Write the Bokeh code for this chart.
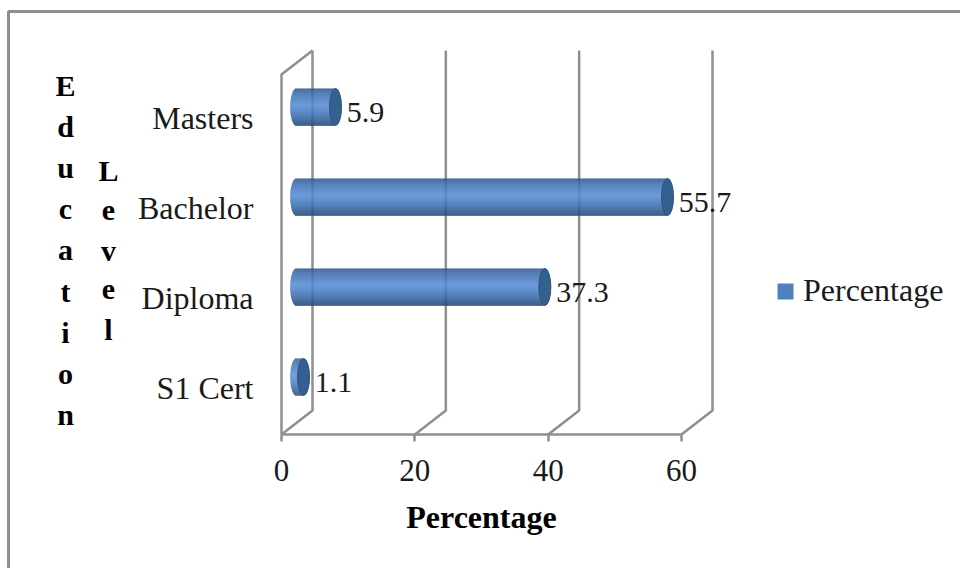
import numpy as np
from bokeh.embed import file_html
from bokeh.models import (ColumnDataSource, FixedTicker, Label, Legend,
                          LegendItem, LinearAxis, Range1d)
from bokeh.plotting import figure
from bokeh.resources import INLINE

categories = ["S1 Cert", "Diploma", "Bachelor", "Masters"]
percentages = [1.1, 37.3, 55.7, 5.9]
x_ticks = [0, 20, 40, 60]
series_name = "Percentage"
x_title = "Percentage"
y_title_left = "Education"
y_title_right = "Level"

SERIF = "Liberation Serif"
GREY = "#8f8f8f"
TEXT = "#1a1a1a"
WIDTH, HEIGHT = 960, 568

# The frame fills the page; scale factors are pixels per data unit
PX_X = 400 / 60
PX_Y = 90.0
ZERO_X, ZERO_Y = 281, 387
FLOOR_PX = 434


def dx(px):
    return (px - ZERO_X) / PX_X


def dy(py):
    return (ZERO_Y - py) / PX_Y


p = figure(width=WIDTH, height=HEIGHT, output_backend="svg", toolbar_location=None,
           x_range=Range1d(dx(0), dx(WIDTH)), y_range=Range1d(dy(HEIGHT), dy(0)),
           min_border=0, x_axis_type=None, y_axis_type=None, outline_line_color=None)
p.grid.visible = False

# Chart border runs off the right and bottom of the page
p.line([dx(WIDTH + 5), dx(8), dx(8)], [dy(11), dy(11), dy(HEIGHT + 5)], line_color=GREY, line_width=3)

# 3-D walls: a diagonal from the floor to the back plane, then a vertical line
depth_x, depth_y = 31 / PX_X, 24 / PX_Y
floor = dy(FLOOR_PX)
back_top = dy(50)
for t in x_ticks:
    p.line([t, t + depth_x, t + depth_x], [floor, floor + depth_y, back_top],
           line_color=GREY, line_width=2.5)
p.line([0, 0, depth_x], [floor, back_top - depth_y, back_top], line_color=GREY, line_width=2.5)

# Cylinders: stacked one-pixel strips give the vertical shading
stops_t = [0.0, 0.12, 0.45, 0.72, 1.0]
stops_rgb = np.array([[0x2c, 0x56, 0x8a], [0x3c, 0x6c, 0xa9], [0x58, 0x8e, 0xd6],
                      [0x3e, 0x72, 0xb4], [0x22, 0x46, 0x72]], dtype=float)
bar_h = 37 / PX_Y
cap_a = 6 / PX_X
inset_x = 14.7 / PX_X
lift = 10.5 / PX_Y
n_strips = 37
for i, v in enumerate(percentages):
    yc = i + lift
    t = (np.arange(n_strips) + 0.5) / n_strips
    left = inset_x - cap_a * np.sqrt(1 - (2 * t - 1) ** 2)
    cols = ["#%02x%02x%02x" % tuple(int(np.interp(tt, stops_t, stops_rgb[:, c])) for c in range(3))
            for tt in t]
    top = yc + bar_h / 2 - t * bar_h + bar_h / n_strips / 2
    p.quad(left=left, right=np.full(n_strips, v + inset_x), top=top, bottom=top - bar_h / n_strips * 1.15,
           fill_color=cols, line_color=None)
    p.ellipse(x=[v + inset_x], y=[yc], width=[2 * cap_a], height=[bar_h],
              fill_color="#33608f", line_color="#2c5480", line_width=1)

# Value labels sit just past the end of each cylinder
src = ColumnDataSource(dict(x=percentages, y=[i + 5 / PX_Y for i in range(4)],
                            t=[str(v) for v in percentages]))
p.text("x", "y", text="t", source=src, x_offset=26, text_align="left", text_baseline="middle",
       text_font={"value": SERIF}, text_font_size="30px", text_color=TEXT)

# Value axis, pinned to the chart floor
xaxis = LinearAxis(ticker=FixedTicker(ticks=x_ticks), bounds=(0, 60), fixed_location=floor)
xaxis.axis_line_color = GREY
xaxis.axis_line_width = 2.5
xaxis.major_tick_line_color = GREY
xaxis.major_tick_line_width = 2.5
xaxis.major_tick_out = 7
xaxis.major_tick_in = 0
xaxis.minor_tick_line_color = None
xaxis.major_label_standoff = 18
xaxis.major_label_text_font = SERIF
xaxis.major_label_text_font_size = "31px"
xaxis.major_label_text_color = TEXT
p.add_layout(xaxis, "below")

# Category axis, pinned left of the wall
yaxis = LinearAxis(ticker=FixedTicker(ticks=list(range(4))), fixed_location=dx(270),
                   major_label_overrides={i: c for i, c in enumerate(categories)})
yaxis.axis_line_color = None
yaxis.major_tick_line_color = None
yaxis.minor_tick_line_color = None
yaxis.major_label_standoff = 11
yaxis.major_label_text_font = SERIF
yaxis.major_label_text_font_size = "32px"
yaxis.major_label_text_color = TEXT
p.add_layout(yaxis, "left")


def page_label(px, py, text, size):
    p.add_layout(Label(x=px, y=HEIGHT - py, x_units="screen", y_units="screen",
                       text=text, text_align="center", text_baseline="middle",
                       text_font=SERIF, text_font_style="bold",
                       text_font_size=size, text_color="#000000"))


# Value axis title, centred under the 0-60 span
page_label(481, 516, x_title, "32px")

# Stacked, upright axis title in two columns
for word, sx, top_y, step in ((y_title_left, 65, 85, 41.1), (y_title_right, 108, 170, 39.8)):
    for k, ch in enumerate(word):
        page_label(sx, top_y + k * step, ch, "30px")

# Legend; its swatch takes the style of a glyph parked outside the visible range
swatch = p.quad(left=[-500], right=[-499], top=[0], bottom=[-1], fill_color="#4f81bd", line_color=None)
legend = Legend(items=[LegendItem(label=series_name, renderers=[swatch])],
                location=(775, 259), border_line_color=None, background_fill_alpha=0,
                glyph_width=20, glyph_height=20, label_text_font=SERIF, label_text_font_size="32px",
                label_text_color=TEXT, label_standoff=8, padding=8, margin=0)
p.add_layout(legend)

open("out.html", "w").write(file_html(p, INLINE))
